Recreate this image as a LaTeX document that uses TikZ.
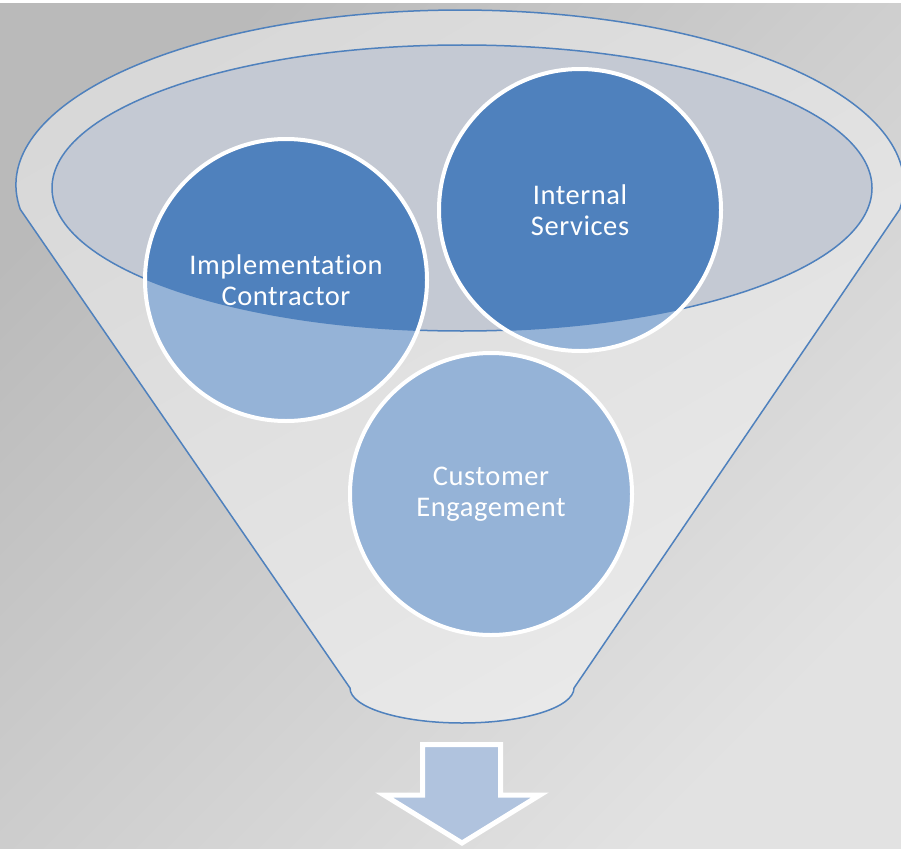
\documentclass[tikz,border=0pt]{standalone}
\usepackage{fontspec}
\setsansfont{Carlito}[LetterSpace=2,Ligatures=NoCommon]
\definecolor{darkblue}{RGB}{79,129,189}
\definecolor{lightblue}{RGB}{149,179,215}
\definecolor{arrowblue}{RGB}{176,195,222}
\definecolor{bgdark}{RGB}{186,186,186}
\definecolor{bglight}{RGB}{226,226,226}
\definecolor{funneltop}{RGB}{216,216,216}
\definecolor{funnelbot}{RGB}{234,234,234}
\definecolor{rimfill}{RGB}{196,201,211}
\tikzset{
  bubble/.style={circle,draw=white,line width=4pt,minimum size=282pt,inner sep=0pt,
    text=white,align=center,font=\sffamily\fontsize{28.5}{31}\selectfont},
  rim/.style={darkblue,line width=1.5pt},
}
\begin{document}
\begin{tikzpicture}[x=1pt,y=-1pt]
    \useasboundingbox (0,0) rectangle (901,848);
    \shade[top color=bgdark,bottom color=bglight,shading angle=45] (0,4) rectangle (901,848);
    % funnel body
    \shadedraw[rim,top color=funneltop,bottom color=funnelbot,shading angle=30,line join=round]
        (20.3,209.4) arc[start angle=172,end angle=368,x radius=444,y radius=175]
        -- (574,688) arc[start angle=0,end angle=180,x radius=112,y radius=35] -- cycle;
    \fill[rimfill] (462,188) ellipse[x radius=410,y radius=143];
    \coordinate (ic) at (286,280);
    \coordinate (is) at (580,210);
    \coordinate (ce) at (491,494);
    \fill[lightblue] (ic) circle[radius=141pt] (is) circle[radius=141pt] (ce) circle[radius=141pt];
    \begin{scope}
        \clip (462,188) ellipse[x radius=410,y radius=143];
        \fill[darkblue] (ic) circle[radius=141pt] (is) circle[radius=141pt];
    \end{scope}
    \draw[rim] (462,188) ellipse[x radius=410,y radius=143];
    \node[bubble] (contractor) at (ic) {Implementation\\Contractor};
    \node[bubble] (services) at (is) {Internal\\Services};
    \node[bubble] (customer) at (ce) {Customer\\Engagement};
    % output arrow
    \draw[white,fill=arrowblue,line width=5pt,line join=miter]
        (422.5,744.5) -- (500.5,744.5) -- (500.5,795) -- (540,795) -- (462,843)
        -- (384,795) -- (422.5,795) -- cycle;
\end{tikzpicture}
\end{document}
